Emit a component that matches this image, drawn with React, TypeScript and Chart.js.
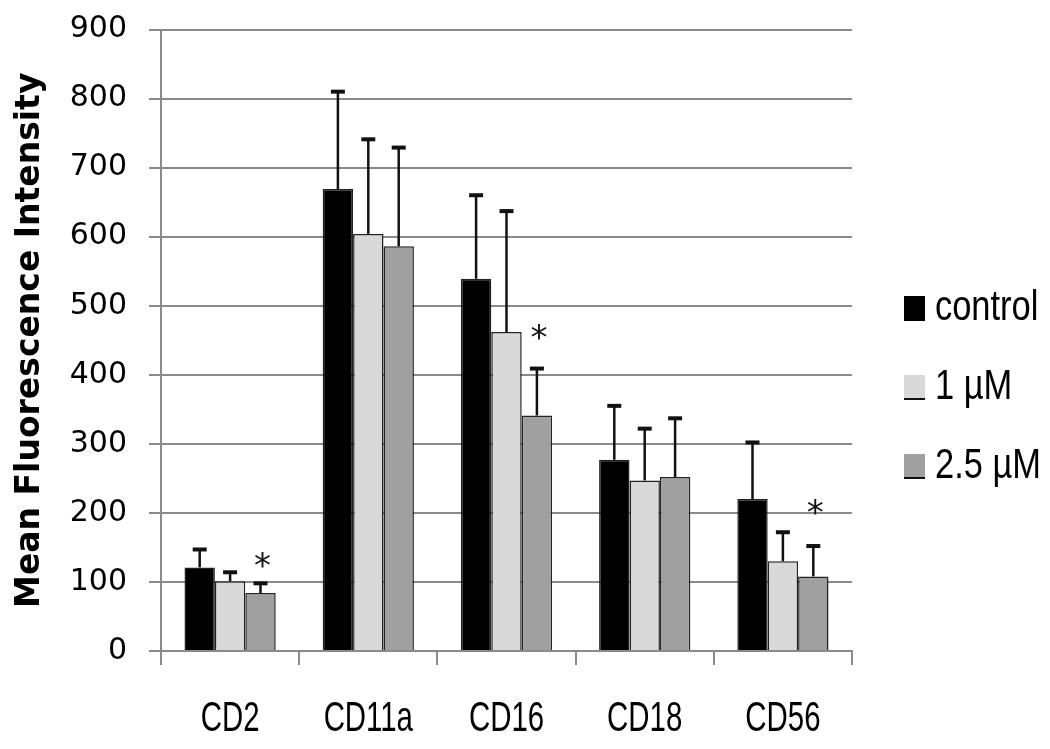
import React, { useEffect, useRef } from "react";
import { Chart, registerables } from "chart.js";

Chart.register(...registerables);

const categories = ["CD2", "CD11a", "CD16", "CD18", "CD56"];
const seriesLabels = ["control", "1 µM", "2.5 µM"];
const controlValues = [121, 669, 539, 277, 220];
const controlErrors = [26, 141, 121, 78, 82];
const oneMicroValues = [101, 604, 462, 247, 130];
const oneMicroErrors = [13, 137, 175, 75, 42];
const twoHalfMicroValues = [84, 586, 341, 252, 108];
const twoHalfMicroErrors = [14, 143, 68, 85, 44];
// asterisk (significance) marks on the 2.5 µM series, at value level
const significanceMarks = [130, null, 460, null, 207];
const yTicks = [0, 100, 200, 300, 400, 500, 600, 700, 800, 900];

const seriesColors = ["#000000", "#d9d9d9", "#a0a0a0"];
const narrowFont = "'Liberation Sans', Arial, sans-serif";
const wideFont = "'DejaVu Sans', Verdana, sans-serif";

const errorArrays = [controlErrors, oneMicroErrors, twoHalfMicroErrors];

const errorBarPlugin = {
  id: "errorBars",
  afterDatasetsDraw(chart: any) {
    const ctx = chart.ctx;
    const yScale = chart.scales.y;
    ctx.save();
    ctx.strokeStyle = "#111";
    chart.data.datasets.forEach((ds: any, di: number) => {
      const meta = chart.getDatasetMeta(di);
      meta.data.forEach((el: any, i: number) => {
        const v = ds.data[i];
        const e = errorArrays[di][i];
        const top = yScale.getPixelForValue(v + e);
        ctx.lineWidth = 2.5;
        ctx.beginPath();
        ctx.moveTo(el.x, el.y);
        ctx.lineTo(el.x, top);
        ctx.stroke();
        ctx.lineWidth = 4;
        ctx.beginPath();
        ctx.moveTo(el.x - 7, top);
        ctx.lineTo(el.x + 7, top);
        ctx.stroke();
      });
    });
    const meta = chart.getDatasetMeta(2);
    ctx.fillStyle = "#111";
    ctx.font = `34px ${wideFont}`;
    ctx.textAlign = "center";
    ctx.textBaseline = "middle";
    significanceMarks.forEach((m, i) => {
      if (m == null) return;
      const el = meta.data[i];
      ctx.fillText("*", el.x + 2, yScale.getPixelForValue(m) + 7);
    });
    ctx.restore();
  },
};

const labelsPlugin = {
  id: "narrowLabels",
  afterDraw(chart: any) {
    const ctx = chart.ctx;
    const area = chart.chartArea;
    const xScale = chart.scales.x;
    ctx.save();
    ctx.fillStyle = "#000";
    ctx.font = `42px ${narrowFont}`;
    ctx.textAlign = "center";
    ctx.textBaseline = "middle";
    (chart.data.labels as string[]).forEach((lab, i) => {
      ctx.save();
      ctx.translate(xScale.getPixelForValue(i), area.bottom + 68);
      ctx.scale(0.7, 1);
      ctx.fillText(lab, 0, 0);
      ctx.restore();
    });
    // legend
    const x0 = area.right + 52;
    const rows = [308, 387, 466];
    chart.data.datasets.forEach((ds: any, i: number) => {
      const cy = rows[i];
      ctx.fillStyle = ds.backgroundColor;
      ctx.fillRect(x0, cy - 12, 21, 25);
      if (i > 0) {
        ctx.fillStyle = "#111";
        ctx.fillRect(x0, cy + 11, 21, 2);
      }
      ctx.fillStyle = "#000";
      ctx.font = `42px ${narrowFont}`;
      ctx.textAlign = "left";
      ctx.textBaseline = "middle";
      ctx.save();
      ctx.translate(x0 + 31, cy);
      ctx.scale(0.82, 1);
      ctx.fillText(ds.label, 0, 0);
      ctx.restore();
    });
    ctx.restore();
  },
};

export default function App() {
  const ref = useRef<HTMLCanvasElement>(null);
  useEffect(() => {
    document.body.style.margin = "0";
    const canvas = ref.current;
    if (!canvas) return;
    const valuesList = [controlValues, oneMicroValues, twoHalfMicroValues];
    const chart = new Chart(canvas, {
      type: "bar",
      data: {
        labels: categories,
        datasets: seriesLabels.map((label, i) => ({
          label,
          data: valuesList[i],
          backgroundColor: seriesColors[i],
          borderColor: "#222",
          borderWidth: 1.5,
          categoryPercentage: 0.66,
          barPercentage: 1.0,
        })),
      },
      options: {
        responsive: false,
        animation: false,
        layout: { padding: { top: 0, right: 198, left: 0, bottom: 0 } },
        plugins: { legend: { display: false }, tooltip: { enabled: false } },
        scales: {
          x: {
            grid: {
              display: true,
              drawOnChartArea: false,
              drawTicks: true,
              tickLength: 14,
              color: "#8a8a8a",
              lineWidth: 2,
            },
            border: { color: "#8a8a8a", width: 2 },
            ticks: { display: false },
            afterFit(scale: any) {
              scale.height = 98;
            },
          },
          y: {
            min: 0,
            max: 900,
            afterBuildTicks(scale: any) {
              scale.ticks = yTicks.map((v) => ({ value: v }));
            },
            grid: {
              color: "#8a8a8a",
              lineWidth: 2,
              tickLength: 12,
            },
            border: { color: "#8a8a8a", width: 2 },
            ticks: {
              color: "#000",
              font: { family: wideFont, size: 30, lineHeight: 0.5 },
              padding: 22,
            },
            title: {
              display: true,
              text: "Mean Fluorescence Intensity",
              color: "#000",
              font: { family: wideFont, size: 33, weight: "bold" },
              padding: { top: 11, bottom: 0 },
            },
            afterFit(scale: any) {
              scale.width = 161;
            },
          },
        },
      },
      plugins: [errorBarPlugin, labelsPlugin],
    });
    return () => chart.destroy();
  }, []);
  return (
    <div style={{ width: 1050, height: 749 }}>
      <canvas ref={ref} width={1050} height={749} style={{ display: "block" }} />
    </div>
  );
}
